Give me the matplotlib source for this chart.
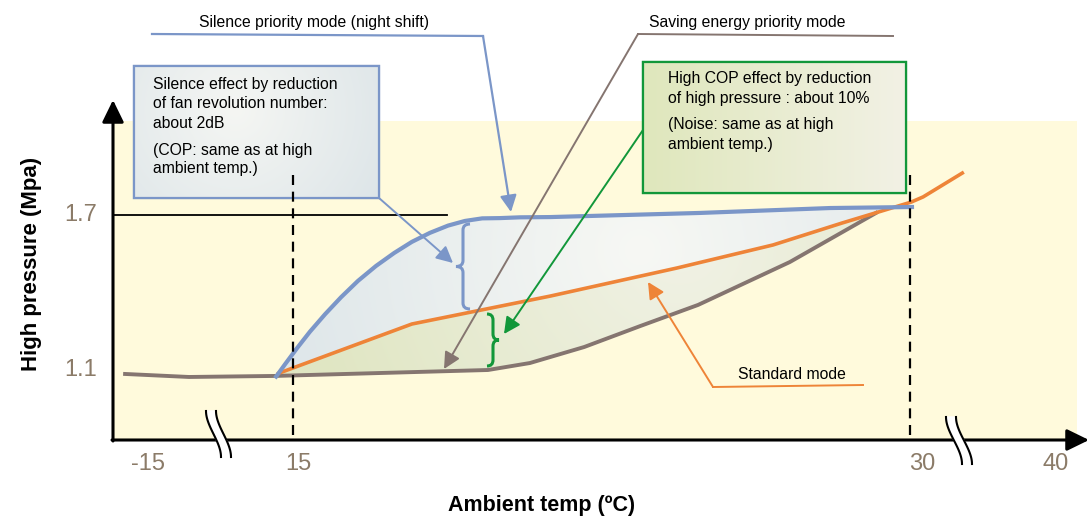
import numpy as np
import matplotlib.pyplot as plt
from matplotlib.path import Path
from matplotlib.patches import PathPatch, Rectangle, Polygon

plt.rcParams['font.family'] = ['Liberation Sans', 'DejaVu Sans']

# schematic curves: ambient temp (degC, scale of the 15-30 section) vs high pressure (MPa)
saving_t = [10.87, 12.47, 14.56, 19.74, 20.76, 22.08, 23.44, 24.85, 27.08, 29.22]
saving_p = [1.085, 1.073, 1.077, 1.100, 1.127, 1.189, 1.270, 1.352, 1.518, 1.712]

standard_t = [14.61, 17.89, 21.25, 24.34, 26.67, 28.35, 30.03, 30.32, 31.31]
standard_p = [1.085, 1.278, 1.386, 1.495, 1.584, 1.669, 1.750, 1.770, 1.866]

silence_t = [14.56, 14.81, 15.10, 15.41, 15.78, 16.17, 16.58, 17.02, 17.46, 17.89,
             18.33, 18.77, 19.18, 19.60, 20.03, 20.52, 21.25, 24.90, 28.06, 30.10]
silence_p = [1.068, 1.123, 1.185, 1.248, 1.316, 1.382, 1.445, 1.503, 1.553, 1.596,
             1.631, 1.659, 1.677, 1.687, 1.688, 1.691, 1.692, 1.708, 1.727, 1.731]

x_tick_labels = ['-15', '15', '30', '40']
x_tick_pos = [11.47, 15.12, 30.29, 33.53]
y_ticks = [1.1, 1.7]
ref_temps = [15, 30]

blue = '#7B96C8'
orange = '#EE8438'
brown = '#857570'
green = '#12973A'
tick_col = '#8B7B68'
note_size = 11.3


# pixel position on the picture -> data coordinates
def tx(px):
    return 15 + (px - 293) / 41.13


def ty(py):
    return 1.1 + (370 - py) / 258.33


def P(px, py):
    return (tx(px), ty(py))


def shade(ax, box, c_in, c_out, centre, radius, clip, z, horiz=False):
    x0, x1, y0, y1 = box
    xs = np.linspace(x0, x1, 300)
    ys = np.linspace(y0, y1, 150)
    X, Y = np.meshgrid(xs, ys)
    if horiz:
        d = (X - x0) / (x1 - x0)
    else:
        d = np.clip(np.hypot(X - centre[0], Y - centre[1]) / radius, 0, 1)
    c_in = np.array(plt.matplotlib.colors.to_rgb(c_in))
    c_out = np.array(plt.matplotlib.colors.to_rgb(c_out))
    img = c_in * (1 - d)[..., None] + c_out * d[..., None]
    im = ax.imshow(img, extent=(tx(x0), tx(x1), ty(y1), ty(y0)), origin='upper',
                   aspect='auto', zorder=z, interpolation='bilinear')
    im.set_clip_path(clip)


def brace(ax, x, y0, y1, w, color, z):
    # w < 0 -> "{" , w > 0 -> "}"
    ym = (y0 + y1) / 2
    r = 6
    verts = [P(x, y0), P(x + w / 2, y0), P(x + w / 2, y0 + r),
             P(x + w / 2, ym - r), P(x + w / 2, ym), P(x + w, ym),
             P(x + w / 2, ym), P(x + w / 2, ym + r),
             P(x + w / 2, y1 - r), P(x + w / 2, y1), P(x, y1)]
    codes = [Path.MOVETO, Path.CURVE3, Path.CURVE3, Path.LINETO, Path.CURVE3, Path.CURVE3,
             Path.CURVE3, Path.CURVE3, Path.LINETO, Path.CURVE3, Path.CURVE3]
    ax.add_patch(PathPatch(Path(verts, codes), fill=False, edgecolor=color, lw=2.2, zorder=z))


def axis_break(ax, x, y0, y1, dx):
    s = np.linspace(0, 1, 40)
    sm = 3 * s ** 2 - 2 * s ** 3
    ys = y0 + (y1 - y0) * s
    xa = x + dx * sm
    xb = xa + 10
    ax.fill(np.r_[tx(xa), tx(xb[::-1])], np.r_[ty(ys), ty(ys[::-1])], color='white', zorder=7)
    ax.plot(tx(xa), ty(ys), color='black', lw=1.5, zorder=8)
    ax.plot(tx(xb), ty(ys), color='black', lw=1.5, zorder=8)


fig = plt.figure(figsize=(10.89, 5.22), dpi=100)
ax = fig.add_axes([0, 0, 1, 1])
ax.axis('off')

# yellow plot area
ax.add_patch(Rectangle(P(113, 440), tx(1077) - tx(113), ty(121) - ty(440),
                       facecolor='#FFFADC', edgecolor='none', zorder=0))

# filled bands between the modes
grid = np.linspace(14.62, 29.7, 300)
b = np.interp(grid, silence_t, silence_p)
o = np.interp(grid, standard_t, standard_p)
band1 = Polygon(np.column_stack([np.r_[grid, grid[::-1]], np.r_[b, o[::-1]]]),
                facecolor='#E7EDEE', edgecolor='none', zorder=1)
ax.add_patch(band1)
shade(ax, (270, 920, 200, 380), '#F7F8F4', '#DFE7EA', (640, 250), 360, band1, 1.5)

grid2 = np.linspace(14.62, 29.22, 300)
o2 = np.interp(grid2, standard_t, standard_p)
s2 = np.interp(grid2, saving_t, saving_p)
band2 = Polygon(np.column_stack([np.r_[grid2, grid2[::-1]], np.r_[o2, s2[::-1]]]),
                facecolor='#E5EACB', edgecolor='none', zorder=1)
ax.add_patch(band2)
shade(ax, (270, 900, 200, 380), '#F1F2E6', '#E0E6C3', (680, 240), 380, band2, 1.5)

# reference lines
ax.plot([tx(113), tx(447)], [1.7, 1.7], color='black', lw=1.3, zorder=2)
for t in ref_temps:
    ax.plot([t, t], [ty(175), ty(440)], color='black', lw=1.6,
            linestyle=(0, (4.5, 3)), zorder=12)

# mode curves
ax.plot(saving_t, saving_p, color=brown, lw=2.8, zorder=3, solid_capstyle='butt')
ax.plot(standard_t, standard_p, color=orange, lw=2.6, zorder=4, solid_capstyle='butt')
ax.plot(silence_t, silence_p, color=blue, lw=3.0, zorder=5, solid_capstyle='butt',
        solid_joinstyle='round')

brace(ax, 470, 224, 309, -14, blue, 5)
brace(ax, 487, 314, 366, 12, green, 5)

# axes with arrows
ax.annotate('', xy=P(113, 100), xytext=P(113, 441), zorder=6,
            arrowprops=dict(arrowstyle='-|>,head_length=0.45,head_width=0.22',
                            mutation_scale=30, lw=2.2, color='black', shrinkA=0, shrinkB=0))
ax.annotate('', xy=P(1089, 440), xytext=P(112, 440), zorder=6,
            arrowprops=dict(arrowstyle='-|>,head_length=0.45,head_width=0.22',
                            mutation_scale=30, lw=2.2, color='black', shrinkA=0, shrinkB=0))
axis_break(ax, 206, 411, 457, 15)
axis_break(ax, 946, 417, 464, 16)

for lab, pos in zip(x_tick_labels, x_tick_pos):
    ax.text(pos, ty(464), lab, fontsize=17, color=tick_col, ha='center', va='center')
for p in y_ticks:
    ax.text(tx(97), p, '%.1f' % p, fontsize=17, color=tick_col, ha='right', va='center')

ax.text(*P(32, 264), 'High pressure (Mpa)', rotation=90, fontsize=16, fontweight='bold',
        ha='center', va='center')
ax.text(*P(542, 505), 'Ambient temp (ºC)', fontsize=15.5, fontweight='bold',
        ha='center', va='center')

# callout: silence priority mode
ax.text(*P(314, 22), 'Silence priority mode (night shift)', fontsize=note_size,
        ha='center', va='center')
ax.plot([tx(152), tx(483)], [ty(34), ty(36)], color=blue, lw=1.6, zorder=9)
ax.annotate('', xy=P(511, 212), xytext=P(483, 36), zorder=9,
            arrowprops=dict(arrowstyle='-|>,head_length=0.5,head_width=0.25', mutation_scale=20,
                            lw=1.6, color=blue, shrinkA=0, shrinkB=0))

# callout: saving energy priority mode
ax.text(*P(747, 22), 'Saving energy priority mode', fontsize=note_size, ha='center', va='center')
ax.plot([tx(893), tx(638)], [ty(36), ty(34)], color=brown, lw=1.4, zorder=9)
ax.annotate('', xy=P(444, 369), xytext=P(638, 34), zorder=9,
            arrowprops=dict(arrowstyle='-|>,head_length=0.5,head_width=0.25', mutation_scale=20,
                            lw=1.4, color=brown, shrinkA=0, shrinkB=0))

# box 1
box1 = Rectangle(P(134, 198), tx(379) - tx(134), ty(66) - ty(198), facecolor='#E6EDEF',
                 edgecolor=blue, lw=1.6, zorder=10)
ax.add_patch(box1)
shade(ax, (134, 379, 66, 198), '#F5F6F3', '#DAE3E7', (235, 110), 190, box1, 10.5)
ax.add_patch(Rectangle(P(134, 198), tx(379) - tx(134), ty(66) - ty(198), facecolor='none',
                       edgecolor=blue, lw=1.6, zorder=11))
for yy, line in zip([85, 104, 123, 150, 169],
                    ['Silence effect by reduction', 'of fan revolution number:', 'about 2dB',
                     '(COP: same as at high', 'ambient temp.)']):
    ax.text(*P(153, yy), line, fontsize=note_size, ha='left', va='center', zorder=12)
ax.annotate('', xy=P(453, 263), xytext=P(379, 198), zorder=9,
            arrowprops=dict(arrowstyle='-|>,head_length=0.5,head_width=0.25', mutation_scale=20,
                            lw=1.4, color=blue, shrinkA=0, shrinkB=0))

# box 2
box2 = Rectangle(P(643, 193), tx(906) - tx(643), ty(62) - ty(193), facecolor='#E8ECD0',
                 edgecolor=green, lw=1.6, zorder=10)
ax.add_patch(box2)
shade(ax, (643, 906, 62, 193), '#DFE7BC', '#F2F1E5', None, 1, box2, 10.5, horiz=True)
ax.add_patch(Rectangle(P(643, 193), tx(906) - tx(643), ty(62) - ty(193), facecolor='none',
                       edgecolor=green, lw=1.6, zorder=11))
for yy, line in zip([79, 98, 124, 144],
                    ['High COP effect by reduction', 'of high pressure : about 10%',
                     '(Noise: same as at high', 'ambient temp.)']):
    ax.text(*P(668, yy), line, fontsize=note_size, ha='left', va='center', zorder=12)
ax.annotate('', xy=P(504, 334), xytext=P(643, 130), zorder=9,
            arrowprops=dict(arrowstyle='-|>,head_length=0.5,head_width=0.25', mutation_scale=20,
                            lw=1.4, color=green, shrinkA=0, shrinkB=0))

# callout: standard mode
ax.text(*P(792, 374), 'Standard mode', fontsize=note_size, ha='center', va='center')
ax.plot([tx(863), tx(713)], [ty(385), ty(387)], color=orange, lw=1.4, zorder=9)
ax.annotate('', xy=P(648, 282), xytext=P(713, 387), zorder=9,
            arrowprops=dict(arrowstyle='-|>,head_length=0.5,head_width=0.25', mutation_scale=20,
                            lw=1.4, color=orange, shrinkA=0, shrinkB=0))

ax.set_xlim(tx(0), tx(1089))
ax.set_ylim(ty(522), ty(0))

plt.savefig('out.png', dpi=100)
